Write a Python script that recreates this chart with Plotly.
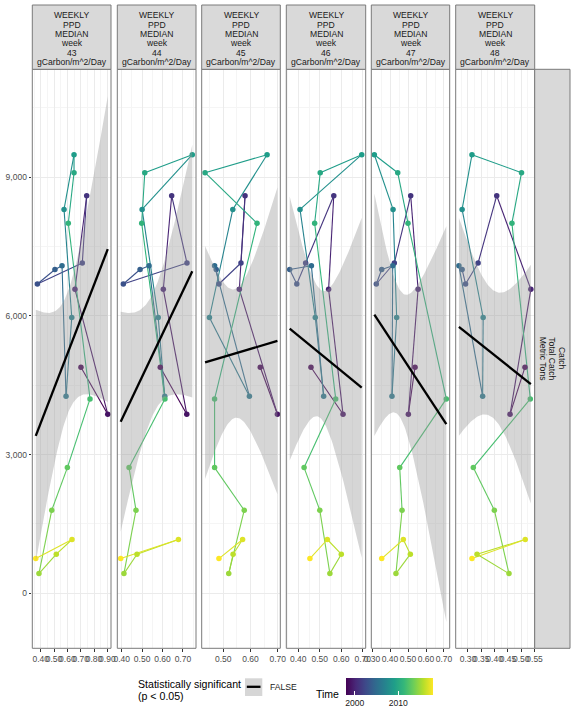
import numpy as np
import plotly.graph_objects as go
from plotly.colors import sample_colorscale

W, H = 576, 720
FONT = "Liberation Sans, Arial, sans-serif"

# ---------------- data ----------------
years = list(range(1998, 2019))
catch = [4892, 3875, 6577, 8602, 7146, 6692, 7005, 7085, 4264, 5967,
         8306, 9489, 9100, 8007, 4206, 2720, 1798, 426, 846, 1164, 751]
weeks = [43, 44, 45, 46, 47, 48]
ppd_w43 = [0.702, 0.903, 0.657, 0.745, 0.712, 0.375, 0.507, 0.560, 0.590, 0.633,
           0.575, 0.650, 0.650, 0.607, 0.770, 0.600, 0.483, 0.387, 0.517, 0.635, 0.363]
ppd_w44 = [0.589, 0.719, 0.604, 0.645, 0.720, 0.408, 0.490, 0.534, 0.611, 0.579,
           0.500, 0.746, 0.513, 0.498, 0.612, 0.436, 0.470, 0.411, 0.475, 0.678, 0.395]
ppd_w45 = [0.636, 0.699, 0.559, 0.580, 0.565, 0.484, 0.474, 0.468, 0.596, 0.449,
           0.535, 0.661, 0.433, 0.624, 0.468, 0.468, 0.577, 0.520, 0.536, 0.571, 0.484]
ppd_w46 = [0.459, 0.608, 0.541, 0.565, 0.434, 0.393, 0.360, 0.461, 0.518, 0.479,
           0.408, 0.695, 0.502, 0.476, 0.574, 0.427, 0.500, 0.547, 0.600, 0.535, 0.454]
ppd_w47 = [0.539, 0.502, 0.556, 0.515, 0.424, 0.324, 0.354, 0.415, 0.411, 0.437,
           0.417, 0.313, 0.443, 0.500, 0.713, 0.454, 0.467, 0.433, 0.513, 0.474, 0.354]
ppd_w48 = [0.514, 0.458, 0.536, 0.408, 0.338, 0.291, 0.278, 0.266, 0.355, 0.357,
           0.278, 0.315, 0.501, 0.465, 0.534, 0.320, 0.399, 0.454, 0.334, 0.515, 0.315]
ppd = [ppd_w43, ppd_w44, ppd_w45, ppd_w46, ppd_w47, ppd_w48]
strip_lines = ["WEEKLY", "PPD", "MEDIAN", "week", None, "gCarbon/m^2/Day"]
row_strip = ["Catch", "Total Catch", "Metric Tons"]
legend_title = ["Statistically significant", "(p < 0.05)"]
legend_label = "FALSE"
cbar_title = "Time"
cbar_ticks = [2000, 2010]
year_min, year_max = 1998, 2018

# ---------------- layout geometry (pixels) ----------------
panel_x = [(32.3, 111.0), (117.3, 196.0), (201.7, 280.3),
           (286.3, 365.7), (371.3, 449.7), (455.7, 534.7)]
panel_top, panel_bot = 69.3, 648.3
strip_top = 5.0
x_ranges = [[0.337, 0.9274], [0.3784, 0.7642], [0.4206, 0.7096],
            [0.3442, 0.7135], [0.2961, 0.7317], [0.2539, 0.5505]]
x_dtick = [0.1, 0.1, 0.1, 0.1, 0.1, 0.05]
y_range = [-1190, 11337]


def px(x):
    return x / W


def py(y):
    return 1 - y / H


fig = go.Figure()
t = 2.093  # qt(0.975, df = 19)

for k in range(6):
    xa = "x" if k == 0 else f"x{k+1}"
    ya = "y" if k == 0 else f"y{k+1}"
    xv = np.array(ppd[k], dtype=float)
    yv = np.array(catch, dtype=float)
    yrs = np.array(years, dtype=float)
    # path segments coloured by start year
    for i in range(len(xv) - 1):
        col = sample_colorscale("Viridis", [(yrs[i] - year_min) / (year_max - year_min)])[0]
        fig.add_trace(go.Scatter(x=[xv[i], xv[i + 1]], y=[yv[i], yv[i + 1]], mode="lines",
                                 line=dict(color=col, width=1.1), xaxis=xa, yaxis=ya,
                                 hoverinfo="skip", showlegend=False))
    # points
    marker = dict(size=5.5, color=years, colorscale="Viridis", cmin=year_min, cmax=year_max,
                  line=dict(width=0))
    if k == 0:
        marker["showscale"] = True
        marker["colorbar"] = dict(
            orientation="h", x=px(346), xanchor="left", y=py(678.3), yanchor="top",
            len=86.7, lenmode="pixels", thickness=16.7, thicknessmode="pixels",
            outlinewidth=0, tickvals=cbar_ticks, ticks="inside", ticklen=3.5,
            tickcolor="white", tickwidth=1,
            tickfont=dict(size=8.6, color="#1a1a1a", family=FONT), xpad=0, ypad=0)
    fig.add_trace(go.Scatter(x=xv, y=yv, mode="markers", marker=marker,
                             xaxis=xa, yaxis=ya, showlegend=False))
    # linear model with 95% confidence band
    n = len(xv)
    b1, b0 = np.polyfit(xv, yv, 1)
    resid = yv - (b0 + b1 * xv)
    s = np.sqrt(np.sum(resid ** 2) / (n - 2))
    sxx = np.sum((xv - xv.mean()) ** 2)
    xs = np.linspace(xv.min(), xv.max(), 80)
    yh = b0 + b1 * xs
    se = s * np.sqrt(1 / n + (xs - xv.mean()) ** 2 / sxx)
    up, lo = yh + t * se, yh - t * se
    fig.add_trace(go.Scatter(x=np.concatenate([xs, xs[::-1]]), y=np.concatenate([up, lo[::-1]]),
                             fill="toself", fillcolor="rgba(153,153,153,0.4)",
                             line=dict(width=0), mode="lines", xaxis=xa, yaxis=ya,
                             hoverinfo="skip", showlegend=False))
    fig.add_trace(go.Scatter(x=xs, y=yh, mode="lines", line=dict(color="black", width=2.3),
                             xaxis=xa, yaxis=ya, hoverinfo="skip", showlegend=False))

layout = dict(width=W, height=H, margin=dict(l=0, r=0, t=0, b=0),
              plot_bgcolor="white", paper_bgcolor="white", showlegend=False,
              font=dict(family=FONT))
shapes = []
annotations = []
for k in range(6):
    xkey = "xaxis" if k == 0 else f"xaxis{k+1}"
    ykey = "yaxis" if k == 0 else f"yaxis{k+1}"
    x0, x1 = panel_x[k]
    layout[xkey] = dict(
        domain=[px(x0), px(x1)], range=x_ranges[k], anchor="y" if k == 0 else f"y{k+1}",
        tickmode="linear", tick0=0, dtick=x_dtick[k], tickformat=".2f", tickangle=0,
        ticks="outside", ticklen=2.7, tickwidth=1, tickcolor="#333333",
        showgrid=True, gridcolor="#ebebeb", gridwidth=1,
        minor=dict(dtick=x_dtick[k] / 2, tick0=0, showgrid=True, gridcolor="#f5f5f5",
                   gridwidth=0.6, ticks=""),
        zeroline=False, showline=False, automargin=False, fixedrange=True,
        tickfont=dict(size=8.5, color="#4d4d4d", family=FONT))
    layout[ykey] = dict(
        domain=[py(panel_bot), py(panel_top)], range=y_range,
        anchor="x" if k == 0 else f"x{k+1}",
        tickmode="linear", tick0=0, dtick=3000, tickformat=",d",
        ticks="outside" if k == 0 else "", ticklen=2.7, tickwidth=1, tickcolor="#333333",
        showticklabels=(k == 0),
        showgrid=True, gridcolor="#ebebeb", gridwidth=1,
        minor=dict(dtick=1500, tick0=0, showgrid=True, gridcolor="#f5f5f5",
                   gridwidth=0.6, ticks=""),
        zeroline=False, showline=False, automargin=False, fixedrange=True,
        tickfont=dict(size=8.5, color="#4d4d4d", family=FONT))
    # panel border
    shapes.append(dict(type="rect", xref="paper", yref="paper",
                       x0=px(x0), x1=px(x1), y0=py(panel_bot), y1=py(panel_top),
                       line=dict(color="#7a7a7a", width=1), fillcolor="rgba(0,0,0,0)"))
    # strip
    shapes.append(dict(type="rect", xref="paper", yref="paper",
                       x0=px(x0), x1=px(x1), y0=py(panel_top), y1=py(strip_top),
                       line=dict(color="#7a7a7a", width=1), fillcolor="#d9d9d9"))
    for j, txt in enumerate(strip_lines):
        if txt is None:
            txt = str(weeks[k])
        annotations.append(dict(text=txt, x=px((x0 + x1) / 2), y=py(15.2 + 9.4 * j),
                                xref="paper", yref="paper", showarrow=False,
                                xanchor="center", yanchor="middle",
                                font=dict(size=8.6, color="#1a1a1a", family=FONT)))

# right strip
shapes.append(dict(type="rect", xref="paper", yref="paper",
                   x0=px(534.7), x1=px(570), y0=py(panel_bot), y1=py(panel_top),
                   line=dict(color="#7a7a7a", width=1), fillcolor="#d9d9d9"))
for j, txt in enumerate(row_strip):
    annotations.append(dict(text=txt, x=px(561.9 - 9.4 * j), y=py((panel_top + panel_bot) / 2),
                            xref="paper", yref="paper", showarrow=False, textangle=90,
                            xanchor="center", yanchor="middle",
                            font=dict(size=8.6, color="#1a1a1a", family=FONT)))

# legend: statistical significance
for j, txt in enumerate(legend_title):
    annotations.append(dict(text=txt, x=px(135.5), y=py(683.5 + 12 * j), xref="paper",
                            yref="paper", showarrow=False, xanchor="left", yanchor="middle",
                            font=dict(size=10.6, color="black", family=FONT)))
shapes.append(dict(type="rect", xref="paper", yref="paper", x0=px(245), x1=px(262.3),
                   y0=py(696), y1=py(678.3), line=dict(width=0), fillcolor="#d6d6d6"))
shapes.append(dict(type="line", xref="paper", yref="paper", x0=px(246.8), x1=px(260.5),
                   y0=py(686.8), y1=py(686.8), line=dict(color="black", width=2.3)))
annotations.append(dict(text=legend_label, x=px(267.7), y=py(687.3), xref="paper",
                        yref="paper", showarrow=False, xanchor="left", yanchor="middle",
                        font=dict(size=8.6, color="#1a1a1a", family=FONT)))
annotations.append(dict(text=cbar_title, x=px(341), y=py(693.5), xref="paper",
                        yref="paper", showarrow=False, xanchor="right", yanchor="middle",
                        font=dict(size=10.5, color="black", family=FONT)))

layout["shapes"] = shapes
layout["annotations"] = annotations
fig.update_layout(**layout)
fig.write_html("out.html", config={"displayModeBar": False})
